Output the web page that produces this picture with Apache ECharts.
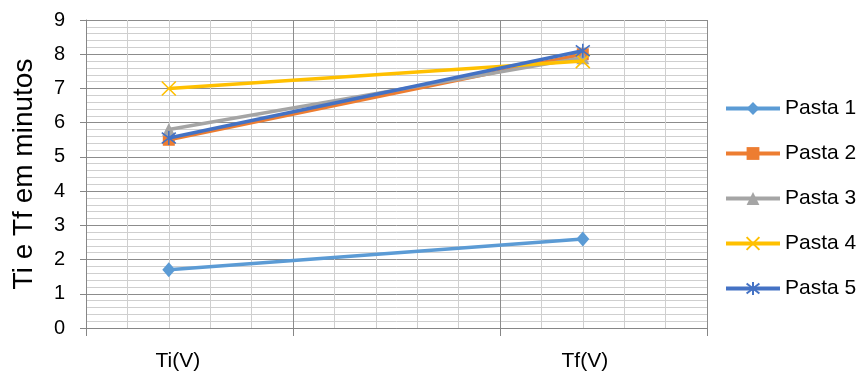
<!DOCTYPE html>
<html>
<head>
<meta charset="utf-8">
<script src="https://cdn.jsdelivr.net/npm/echarts@6/dist/echarts.min.js"></script>
<style>
html,body{margin:0;padding:0;background:#fff;}
#chart{width:865px;height:379px;}
</style>
</head>
<body>
<div id="chart"></div>
<script>
// Category labels and their positions on the horizontal scale (0..15)
var categories = ['Ti(V)', 'Tf(V)'];
var categoryPositions = [2, 12];

// Series values (minutes)
var seriesNames = ['Pasta 1', 'Pasta 2', 'Pasta 3', 'Pasta 4', 'Pasta 5'];
var pasta1 = [1.7, 2.6];
var pasta2 = [5.5, 8.0];
var pasta3 = [5.8, 7.9];
var pasta4 = [7.0, 7.8];
var pasta5 = [5.55, 8.1];

// Y tick labels
var yTicks = ['0','1','2','3','4','5','6','7','8','9'];

var colors = ['#5B9BD5', '#ED7D31', '#A5A5A5', '#FFC000', '#4472C4'];
var symbols = [
  'diamond',
  'rect',
  'triangle',
  'path://M0,0L10,10M10,0L0,10',
  'path://M0,0L10,10M10,0L0,10M5,-1.5L5,11.5'
];
var symbolSizes = [[13, 15], 12, 13, 14, 14];
var allValues = [pasta1, pasta2, pasta3, pasta4, pasta5];

var FONT = 'Liberation Sans, Arial, sans-serif';

function toPairs(vals) {
  return vals.map(function (v, i) { return [categoryPositions[i], v]; });
}

var series = seriesNames.map(function (name, i) {
  var strokeSym = i >= 3;
  return {
    name: name,
    type: 'line',
    xAxisIndex: 0,
    data: toPairs(allValues[i]),
    symbol: symbols[i],
    symbolSize: symbolSizes[i],
    showAllSymbol: true,
    lineStyle: { width: 3.5, color: colors[i] },
    itemStyle: {
      color: strokeSym ? 'rgba(0,0,0,0)' : colors[i],
      borderColor: colors[i],
      borderWidth: strokeSym ? 1.6 : 0
    },
    emphasis: { disabled: true },
    animation: false,
    z: 3 + i
  };
});

var chart = echarts.init(document.getElementById('chart'), null, { renderer: 'canvas' });
chart.setOption({
  backgroundColor: '#ffffff',
  animation: false,
  color: colors,
  grid: { left: 86, top: 20, width: 621, height: 308, containLabel: false },
  xAxis: [
    {
      type: 'value', min: 0, max: 15, interval: 5,
      axisLine: { show: true, lineStyle: { color: '#868686', width: 1 } },
      axisTick: { show: true, inside: false, length: 8, lineStyle: { color: '#868686' } },
      axisLabel: { show: false },
      splitLine: { show: true, lineStyle: { color: '#8c8c8c', width: 1 } },
      minorTick: { show: false, splitNumber: 5 },
      minorSplitLine: { show: true, lineStyle: { color: '#cfcfcf', width: 1 } }
    },
    {
      type: 'value', min: 0, max: 15, interval: 1, position: 'bottom',
      axisLine: { show: false },
      axisTick: { show: false },
      splitLine: { show: false },
      axisLabel: {
        show: true, margin: 23, fontSize: 21, fontFamily: FONT, color: '#000',
        formatter: function (v) {
          var idx = categoryPositions.indexOf(v);
          if (idx < 0) return '';
          return idx === 0 ? '{a|' + categories[idx] + '}' : '{b|' + categories[idx] + '}';
        },
        rich: {
          a: { fontSize: 21, fontFamily: FONT, color: '#000', padding: [0, 0, 0, 18] },
          b: { fontSize: 21, fontFamily: FONT, color: '#000', padding: [0, 0, 0, 4] }
        }
      }
    }
  ],
  yAxis: {
    type: 'value', min: 0, max: 9, interval: 1,
    name: 'Ti e Tf em minutos',
    nameLocation: 'middle', nameGap: 48, nameRotate: 90,
    nameTextStyle: { fontSize: 28, fontFamily: FONT, color: '#000' },
    axisLine: { show: true, lineStyle: { color: '#868686', width: 1 } },
    axisTick: { show: true, inside: false, length: 6, lineStyle: { color: '#868686' } },
    axisLabel: {
      margin: 21, fontSize: 20, fontFamily: FONT, color: '#000',
      formatter: function (v) { return yTicks[Math.round(v)]; }
    },
    splitLine: { show: true, lineStyle: { color: '#8c8c8c', width: 1 } },
    minorTick: { show: false, splitNumber: 5 },
    minorSplitLine: { show: true, lineStyle: { color: '#cfcfcf', width: 1 } }
  },
  legend: {
    orient: 'vertical', left: 719, top: 93,
    itemWidth: 54, itemHeight: 16, itemGap: 24,
    lineStyle: { width: 4 },
    textStyle: { fontSize: 21, fontFamily: FONT, color: '#000', lineHeight: 16 },
    data: seriesNames
  },
  series: series
});
</script>
</body>
</html>
